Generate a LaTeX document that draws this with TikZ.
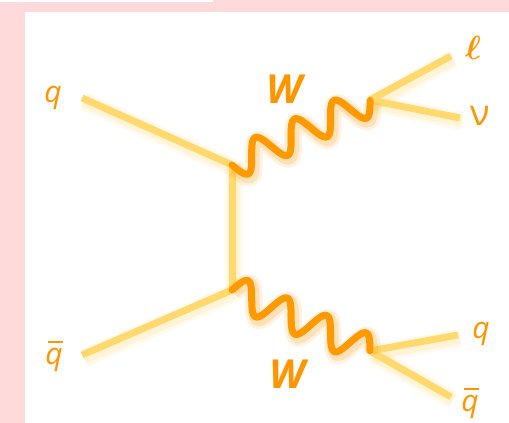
\documentclass[tikz,border=0pt]{standalone}
\usepackage{fontspec}
\usepackage{graphicx}
\newfontfamily\lblfont{Open Sans}
\usetikzlibrary{calc}
\definecolor{bgpink}{RGB}{255,218,218}
\definecolor{qline}{RGB}{255,217,110}
\definecolor{wline}{RGB}{255,153,0}
\definecolor{lbl}{RGB}{255,150,0}
\newcommand\qbarlbl{\makebox[0pt][l]{\hspace{0.1em}\rule[0.7em]{0.5em}{0.09em}}q}
% sine wave of 3.5 periods from #1 to #2, amplitude #3 (sign: side)
\newcommand\wboson[3]{\draw[bos] let \p1=(#1), \p2=(#2), \n1={veclen(\x2-\x1,\y2-\y1)} in
  plot[variable=\t,domain=0:1,samples=140]
  ({\x1+\t*(\x2-\x1)+(#3)*sin(1260*\t)*(\y2-\y1)/\n1},
   {\y1+\t*(\y2-\y1)-(#3)*sin(1260*\t)*(\x2-\x1)/\n1});}

\begin{document}
\begin{tikzpicture}[x=1pt,y=-1pt,
  glow/.style={preaction={draw,#1,opacity=.12,line width=18,transform canvas={shift={(2,3)}}},
               preaction={draw,#1,opacity=.18,line width=12,transform canvas={shift={(2,3)}}}},
  fer/.style={draw=qline,line width=7,glow=qline},
  bos/.style={draw=wline,line width=7,line cap=round,line join=round,glow=wline},
  lb/.style={text=lbl,font=\lblfont\fontsize{30}{32}\selectfont,inner sep=0pt},
  wlb/.style={lb,font=\lblfont\bfseries\itshape\fontsize{40}{42}\selectfont}]
  % background
  \fill[bgpink] (0,0) rectangle (509,423);
  \fill[white] (25,12) rectangle (509,423);
  \fill[white] (0,0) rectangle (213,2);
  \useasboundingbox (0,0) rectangle (509,423);
  % vertices
  \coordinate (v1) at (232,165);
  \coordinate (v2) at (232,290);
  \coordinate (v3) at (370,100);
  \coordinate (v4) at (370,351);
  % incoming and outgoing ends
  \coordinate (qi) at (82,98);
  \coordinate (qbi) at (82,355);
  \coordinate (le) at (451,56);
  \coordinate (ne) at (460,118);
  \coordinate (qo) at (458,335);
  \coordinate (qbo) at (451,397);
  % labels
  \node[lb] (lq) at (53,98) {\itshape q};
  \node[lb] (lqb) at (54,356) {\itshape\qbarlbl};
  \node[wlb] (lw1) at (284,89) {W};
  \node[wlb] (lw2) at (287,374) {W};
  \node[lb,font=\fontsize{24.88}{26}\selectfont\boldmath] (ll) at (473,48) {\scalebox{1.35}{$\ell$}};
  \node[lb,font=\lblfont\fontsize{36}{38}\selectfont] (ln) at (480,116) {ν};
  \node[lb] (lq2) at (481,334) {\itshape q};
  \node[lb] (lqb2) at (470,403) {\itshape\qbarlbl};
  % fermion lines
  \draw[fer] (qi) -- (v1);
  \draw[fer] (qbi) -- (v2);
  \draw[fer] (v1) -- (v2);
  \draw[fer] (v3) -- (le);
  \draw[fer] (v3) -- (ne);
  \draw[fer] (v4) -- (qo);
  \draw[fer] (v4) -- (qbo);
  % W bosons
  \wboson{v1}{v3}{15}
  \wboson{v2}{v4}{-15}
\end{tikzpicture}
\end{document}
